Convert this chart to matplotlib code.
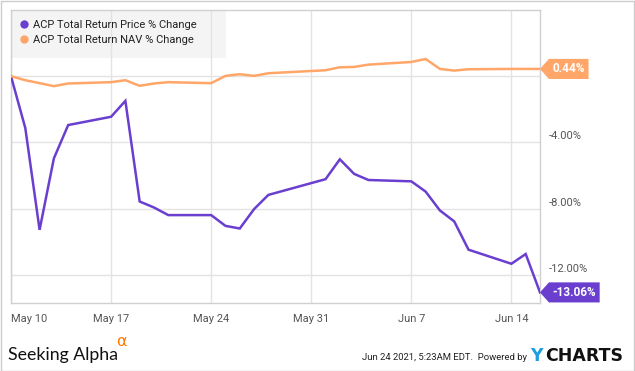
"""ACP total return: price vs NAV % change (YCharts style)."""

import matplotlib
matplotlib.use("Agg")
import matplotlib.pyplot as plt
import matplotlib.dates as mdates
import matplotlib.transforms as mtransforms
from matplotlib.path import Path
import pandas as pd

dates = pd.to_datetime([
    "2021-05-10", "2021-05-11", "2021-05-12", "2021-05-13", "2021-05-14",
    "2021-05-17", "2021-05-18", "2021-05-19", "2021-05-20", "2021-05-21",
    "2021-05-24", "2021-05-25", "2021-05-26", "2021-05-27", "2021-05-28",
    "2021-06-01", "2021-06-02", "2021-06-03", "2021-06-04",
    "2021-06-07", "2021-06-08", "2021-06-09", "2021-06-10", "2021-06-11",
    "2021-06-14", "2021-06-15", "2021-06-16",
])
price_pct = [
    0.0, -3.13, -9.28, -4.96, -2.95,
    -2.45, -1.49, -7.57, -7.93, -8.39,
    -8.39, -9.04, -9.20, -8.03, -7.17,
    -6.22, -5.02, -5.90, -6.27,
    -6.35, -6.97, -8.11, -8.77, -10.48,
    -11.33, -10.74, -13.06,
]
nav_pct = [
    0.0, -0.24, -0.42, -0.60, -0.44,
    -0.36, -0.24, -0.58, -0.44, -0.36,
    -0.42, 0.02, 0.12, 0.02, 0.18,
    0.36, 0.54, 0.56, 0.70,
    0.86, 1.04, 0.44, 0.34, 0.42,
    0.44, 0.44, 0.44,
]
series_names = ["ACP Total Return Price % Change", "ACP Total Return NAV % Change"]
tick_dates = pd.to_datetime(["2021-05-10", "2021-05-17", "2021-05-24",
                             "2021-05-31", "2021-06-07", "2021-06-14"])
tick_labels = ["May 10", "May 17", "May 24", "May 31", "Jun 7", "Jun 14"]
y_ticks = [0, -4, -8, -12]

PURPLE = "#6a3fd0"
ORANGE = "#ffa668"
GRID = "#e3e3e3"
TICK = "#555555"

plt.rcParams["font.family"] = ["Roboto", "DejaVu Sans"]


def tag_box(x0, y0, width, height, mutation_size):
    # price tag with a point on the left side
    pad = 0.3 * mutation_size
    x0, y0 = x0 - pad, y0 - pad
    w, h = width + 2 * pad, height + 2 * pad
    tip = 0.45 * h
    verts = [(x0, y0), (x0 + w, y0), (x0 + w, y0 + h), (x0, y0 + h),
             (x0 - tip, y0 + h / 2), (x0, y0)]
    return Path(verts, closed=True)


W, H = 635, 371
fig = plt.figure(figsize=(W / 100, H / 100), dpi=100)
ax = fig.add_axes([11 / W, 1 - 303 / H, 529 / W, 293 / H])

ax.plot(dates, price_pct, color=PURPLE, lw=1.8, label=series_names[0],
        solid_joinstyle="miter", zorder=3)
ax.plot(dates, nav_pct, color=ORANGE, lw=1.8, label=series_names[1],
        solid_joinstyle="miter", zorder=3)

ax.set_xlim(dates[0], dates[-1])
ax.set_ylim(-13.7, 4.0)

ax.set_xticks(tick_dates)
ax.set_xticklabels(tick_labels)
ax.tick_params(axis="x", length=0, pad=8, labelsize=8, labelcolor=TICK)
ax.get_xticklabels()[0].set_horizontalalignment("left")
ax.get_xticklabels()[0].set_x(mdates.date2num(tick_dates[0]) + 0.25)

ax.yaxis.tick_right()
ax.set_yticks(y_ticks)
ax.set_yticklabels(["" if v == 0 else f"{v:.2f}%" for v in y_ticks])
ax.tick_params(axis="y", length=0, pad=6, labelsize=8, labelcolor=TICK)
lift = mtransforms.ScaledTranslation(0, 5 / 72, fig.dpi_scale_trans)
for lab in ax.get_yticklabels():
    lab.set_transform(lab.get_transform() + lift)

ax.grid(True, color=GRID, lw=1, zorder=0.6)
ax.set_axisbelow(True)
for sp in ax.spines.values():
    sp.set_color("#d0d0d0")
    sp.set_linewidth(1)

# legend panel: light box under the grid lines
ax.add_patch(plt.Rectangle((0, 1 - 48 / 293), 215 / 529, 48 / 293,
                           transform=ax.transAxes, fc="#f4f4f4", ec="none",
                           zorder=0.4))
leg = ax.legend(loc="upper left", bbox_to_anchor=(6 / 529, 1 - 7 / 293),
                frameon=False, fontsize=8, handlelength=0.6,
                handletextpad=0.55, borderpad=0.3, labelspacing=0.45,
                borderaxespad=0)
for h in leg.legend_handles:
    h.set_marker("o")
    h.set_markersize(5)
    h.set_linestyle("none")
for t in leg.get_texts():
    t.set_color("#222222")

# last-value tags
for vals, col in [(price_pct, PURPLE), (nav_pct, ORANGE)]:
    ax.annotate(f"{vals[-1]:.2f}%", xy=(dates[-1], vals[-1]),
                xytext=(9, 0), textcoords="offset points",
                ha="left", va="center", color="white", fontsize=8.5,
                fontweight="bold", annotation_clip=False, zorder=10,
                bbox=dict(boxstyle=tag_box, fc=col, ec="none"))

# footer
fig.patches.append(plt.Rectangle((0.5 / W, 0.5 / H), 633.5 / W, 369.5 / H,
                                 transform=fig.transFigure, fill=False,
                                 ec="#cccccc", lw=1))
fig.text(8 / W, 1 - 355 / H, "Seeking Alpha", fontsize=12.8,
         family=["Lato", "DejaVu Sans"], color="#111111", va="center")
fig.text(116 / W, 1 - 342 / H, "\u03b1", fontsize=11.5, color="#ff7a00",
         va="center", family=["DejaVu Sans"])
fig.text(527 / W, 1 - 357 / H, "Jun 24 2021, 5:23AM EDT.  Powered by",
         fontsize=6.8, color="#222222", ha="right", va="center")
fig.text(530 / W, 1 - 356 / H, "Y", fontsize=12.5, fontweight="bold",
         color="#1d9ee0", va="center", family=["DejaVu Sans"])
fig.text(545 / W, 1 - 356 / H, "CHARTS", fontsize=12.5, fontweight="bold",
         color="#111111", va="center", family=["DejaVu Sans"])

fig.savefig("out.png", dpi=100)
